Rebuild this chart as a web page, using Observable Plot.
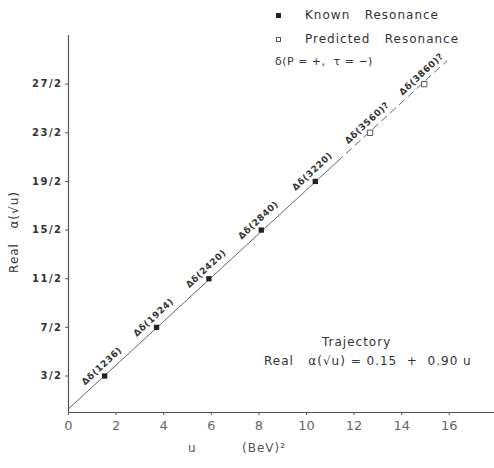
<!DOCTYPE html>
<html>
<head>
<meta charset="utf-8">
<script src="https://cdn.jsdelivr.net/npm/d3@7"></script>
<script src="https://cdn.jsdelivr.net/npm/@observablehq/plot@0.6"></script>
<style>
  html, body { margin: 0; padding: 0; background: #fff; }
  #wrap { position: relative; width: 494px; height: 468px; overflow: hidden; font-family: "DejaVu Sans", sans-serif; color: #333; }
  #wrap svg { position: absolute; left: 0; top: 0; }
  .ov { position: absolute; white-space: pre; line-height: 1; }
  .sq { position: absolute; width: 5px; height: 5px; box-sizing: border-box; }
</style>
</head>
<body>
<div id="wrap"></div>
<script>
// ---- data ----
const knownU = [1.52, 3.70, 5.90, 8.10, 10.37];
const knownAlpha = [1.5, 3.5, 5.5, 7.5, 9.5];
const knownNames = ["Δδ(1236)", "Δδ(1924)", "Δδ(2420)", "Δδ(2840)", "Δδ(3220)"];
const predictedU = [12.67, 14.95];
const predictedAlpha = [11.5, 13.5];
const predictedNames = ["Δδ(3560)?", "Δδ(3860)?"];
const solidU = [0, 11.3];
const solidAlpha = [0.15, 10.32];
const dashedU = [11.3, 15.9];
const dashedAlpha = [10.32, 14.46];
const xTicks = [0, 2, 4, 6, 8, 10, 12, 14, 16];
const yTicks = [1.5, 3.5, 5.5, 7.5, 9.5, 11.5, 13.5];
const yTickLabels = ["3/2", "7/2", "11/2", "15/2", "19/2", "23/2", "27/2"];

const known = knownU.map((u, i) => ({u, a: knownAlpha[i], name: knownNames[i]}));
const predicted = predictedU.map((u, i) => ({u, a: predictedAlpha[i], name: predictedNames[i]}));
const solid = solidU.map((u, i) => ({u, a: solidAlpha[i]}));
const dashed = dashedU.map((u, i) => ({u, a: dashedAlpha[i]}));

const chart = Plot.plot({
  width: 494,
  height: 468,
  marginLeft: 68,
  marginRight: 0,
  marginTop: 35,
  marginBottom: 56,
  style: {fontFamily: "DejaVu Sans, sans-serif", background: "white", color: "#333"},
  x: {domain: [0, 17.9]},
  y: {domain: [0, 15.5]},
  marks: [
    Plot.ruleY([0], {stroke: "#555", strokeWidth: 1.2}),
    Plot.ruleX([0], {stroke: "#555", strokeWidth: 1.2}),
    Plot.axisX({ticks: xTicks, tickSize: 3, tickPadding: 5, fontSize: 13, fill: "#666", stroke: "#555", label: null}),
    Plot.axisY({ticks: yTicks, tickFormat: d => yTickLabels[yTicks.indexOf(d)], tickSize: 3, tickPadding: 3, fontSize: 10, fontWeight: "bold", fill: "#333", stroke: "#555", label: null}),
    Plot.line(solid, {x: "u", y: "a", stroke: "#666", strokeWidth: 1}),
    Plot.line(dashed, {x: "u", y: "a", stroke: "#666", strokeWidth: 1, strokeDasharray: "7,5"}),
    Plot.dot(known, {x: "u", y: "a", symbol: "square", r: 3, fill: "#222", stroke: "none"}),
    Plot.dot(predicted, {x: "u", y: "a", symbol: "square", r: 3, fill: "white", stroke: "#555", strokeWidth: 1}),
    Plot.text(known.concat(predicted), {x: "u", y: "a", text: "name", rotate: -43, dx: -3, dy: -10, fontSize: 9, fontWeight: "bold", fill: "#333"})
  ]
});
chart.querySelectorAll("text").forEach(t => {
  if (t.closest('[aria-label="y-axis tick label"]')) t.style.letterSpacing = "1.5px";
});
chart.querySelectorAll('[aria-label="text"] text').forEach(t => t.style.letterSpacing = "0.6px");

const wrap = document.getElementById("wrap");
wrap.appendChild(chart);

function ov(text, left, top, size, extra) {
  const d = document.createElement("div");
  d.className = "ov";
  d.textContent = text;
  d.style.left = left + "px";
  d.style.top = top + "px";
  d.style.fontSize = size + "px";
  if (extra) Object.assign(d.style, extra);
  wrap.appendChild(d);
  return d;
}
function sq(left, top, filled) {
  const s = document.createElement("div");
  s.className = "sq";
  s.style.left = left + "px";
  s.style.top = top + "px";
  s.style.background = filled ? "#222" : "white";
  s.style.border = filled ? "none" : "1px solid #555";
  wrap.appendChild(s);
}
// legend
sq(276, 13, true);
ov("Known   Resonance", 305, 9, 12, {letterSpacing: "1px"});
sq(276, 37, false);
ov("Predicted   Resonance", 305, 33, 12, {letterSpacing: "1px"});
ov("δ(P = +,  τ = −)", 275, 56, 11, {letterSpacing: "0.5px"});
// trajectory annotation
ov("Trajectory", 322, 336, 12, {letterSpacing: "1px"});
ov("Real   α(√u) = 0.15  +  0.90 u", 264, 355, 12, {letterSpacing: "1px"});
// axis titles
ov("u", 188, 442, 12, {color: "#555"});
ov("(BeV)²", 242, 442, 12, {letterSpacing: "1px", color: "#555"});
ov("Real   α(√u)", 14, 232, 12, {letterSpacing: "1px", transform: "translate(-50%,-50%) rotate(-90deg)", transformOrigin: "center"});
</script>
</body>
</html>
